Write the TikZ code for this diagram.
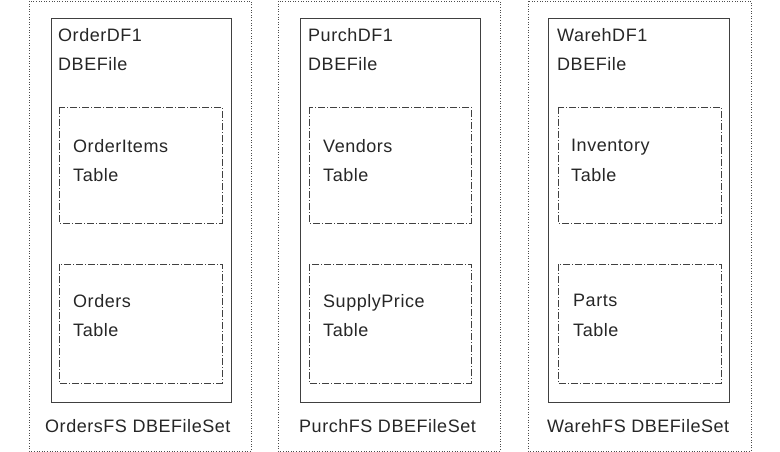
\documentclass[tikz,border=0pt]{standalone}
\usepackage{fontspec}
\setmainfont[LetterSpace=3]{Liberation Sans}
\tikzset{
  fileset/.style={draw=black!70, dotted, line width=0.6pt},
  dbefile/.style={draw=black!75, line width=0.6pt},
  tablebox/.style={draw=black!75, dash pattern=on 7pt off 2pt on 1pt off 2pt, line width=0.6pt},
  lbl/.style={anchor=north west, inner sep=0pt, align=left, text=black!85,
    font=\fontsize{18}{29.5}\selectfont},
}
\begin{document}
\begin{tikzpicture}[x=1pt,y=-1pt]
  \useasboundingbox (0,0) rectangle (780,452);
  % column 1: orders
  \draw[fileset] (29,1) rectangle (251,451);
  \draw[dbefile] (51,18) rectangle (231,402);
  \draw[tablebox] (59,107) rectangle (222,223);
  \draw[tablebox] (59,264) rectangle (222,383);
  \node[lbl] (orderdf) at (58,28) {OrderDF1\\DBEFile};
  \node[lbl] (orderitems) at (73,139) {OrderItems\\Table};
  \node[lbl] (orders) at (73,294) {Orders\\Table};
  \node[lbl] (ordersfs) at (45,419) {OrdersFS DBEFileSet};
  % column 2: purchasing
  \draw[fileset] (278,1) rectangle (500,451);
  \draw[dbefile] (300,18) rectangle (480,402);
  \draw[tablebox] (309,107) rectangle (471,223);
  \draw[tablebox] (309,264) rectangle (471,383);
  \node[lbl] (purchdf) at (308,28) {PurchDF1\\DBEFile};
  \node[lbl] (vendors) at (323,139) {Vendors\\Table};
  \node[lbl] (supply) at (323,294) {SupplyPrice\\Table};
  \node[lbl] (purchfs) at (299,419) {PurchFS DBEFileSet};
  % column 3: warehouse
  \draw[fileset] (528,1) rectangle (751,451);
  \draw[dbefile] (548,18) rectangle (729,402);
  \draw[tablebox] (558,107) rectangle (721,223);
  \draw[tablebox] (558,264) rectangle (721,383);
  \node[lbl] (warehdf) at (557,28) {WarehDF1\\DBEFile};
  \node[lbl] (inventory) at (571,139) {Inventory\\Table};
  \node[lbl] (parts) at (573,294) {Parts\\Table};
  \node[lbl] (warehfs) at (547,419) {WarehFS DBEFileSet};
\end{tikzpicture}
\end{document}
